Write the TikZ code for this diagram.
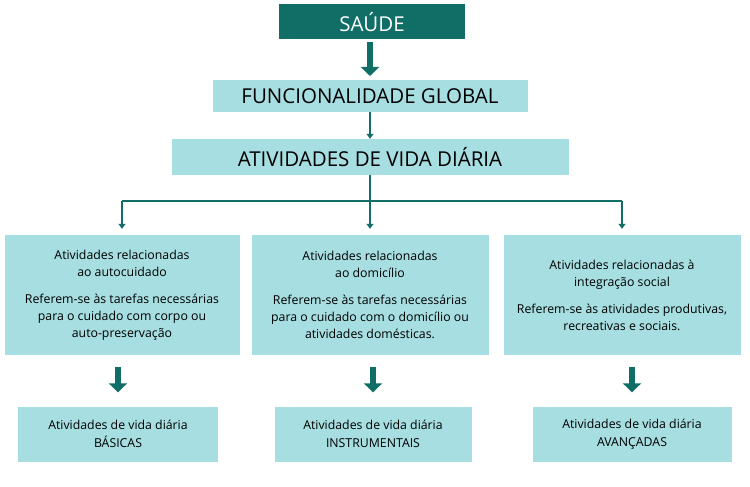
\documentclass[tikz,border=0pt]{standalone}
\usepackage{fontspec}
\setmainfont{Open Sans}
\usetikzlibrary{arrows.meta}
\usetikzlibrary{positioning}
\definecolor{darkteal}{RGB}{16,110,103}
\definecolor{lightteal}{RGB}{166,222,225}
\begin{document}
\begin{tikzpicture}[x=1pt, y=-1pt,
    box/.style={fill=lightteal, align=center, inner sep=0pt},
    bigarrow/.style={-{Triangle[width=18pt,length=9pt]}, line width=6pt, draw=darkteal},
    thinarrow/.style={-{Triangle[width=7pt,length=5pt]}, line width=1.2pt, draw=darkteal}]
    \useasboundingbox (0,0) rectangle (750,487);
    \node[fill=darkteal, text=white, minimum width=186pt, minimum height=35pt, font=\fontsize{20.5}{22}\selectfont] (saude) at (372,22) {SAÚDE};
    \node[box, minimum width=315pt, minimum height=32pt, font=\fontsize{20.5}{22}\selectfont] (global) at (370,96) {FUNCIONALIDADE GLOBAL};
    \node[box, minimum width=397pt, minimum height=36pt, font=\fontsize{20.5}{22}\selectfont] (avd) at (370,157) {ATIVIDADES DE VIDA DIÁRIA};
    \draw[bigarrow] (370,42) -- (370,76);
    \draw[thinarrow] (global) -- (avd);
    \coordinate (split) at (370,201);
    \node[box, minimum width=235pt, minimum height=120pt, font=\fontsize{12.3}{17}\selectfont] (self) at (122,295)
        {Atividades relacionadas\\ao autocuidado\\[10pt]Referem-se às tarefas necessárias\\para o cuidado com corpo ou\\auto-preservação};
    \node[box, minimum width=237pt, minimum height=120pt, font=\fontsize{12.3}{17}\selectfont] (home) at (370,295)
        {Atividades relacionadas\\ao domicílio\\[10pt]Referem-se às tarefas necessárias\\para o cuidado com o domicílio ou\\atividades domésticas.};
    \node[box, minimum width=237pt, minimum height=120pt, font=\fontsize{12.3}{17}\selectfont] (social) at (622,295)
        {Atividades relacionadas à\\integração social\\[10pt]Referem-se às atividades produtivas,\\recreativas e sociais.};
    \node[box, minimum width=200pt, minimum height=55pt, font=\fontsize{12.3}{18}\selectfont] (basic) at (118,434)
        {Atividades de vida diária\\BÁSICAS};
    \node[box, minimum width=197pt, minimum height=55pt, font=\fontsize{12.3}{18}\selectfont] (instr) at (373,434)
        {Atividades de vida diária\\INSTRUMENTAIS};
    \node[box, minimum width=199pt, minimum height=55pt, font=\fontsize{12.3}{18}\selectfont] (adv) at (632,434)
        {Atividades de vida diária\\AVANÇADAS};
    \draw[line width=1.2pt, darkteal] (avd) -- (split);
    \draw[line width=1.2pt, darkteal] (self.north |- split) -- (social.north |- split);
    \draw[thinarrow] (split) -- ([yshift=6pt]home.north);
    \draw[thinarrow] (self.north |- split) -- ([yshift=6pt]self.north);
    \draw[thinarrow] (social.north |- split) -- ([yshift=6pt]social.north);
    \draw[bigarrow] ([yshift=-12pt]self.south -| basic.north) -- ([yshift=14pt]basic.north);
    \draw[bigarrow] ([yshift=-12pt]home.south -| instr.north) -- ([yshift=14pt]instr.north);
    \draw[bigarrow] ([yshift=-12pt]social.south -| adv.north) -- ([yshift=14pt]adv.north);
\end{tikzpicture}
\end{document}
